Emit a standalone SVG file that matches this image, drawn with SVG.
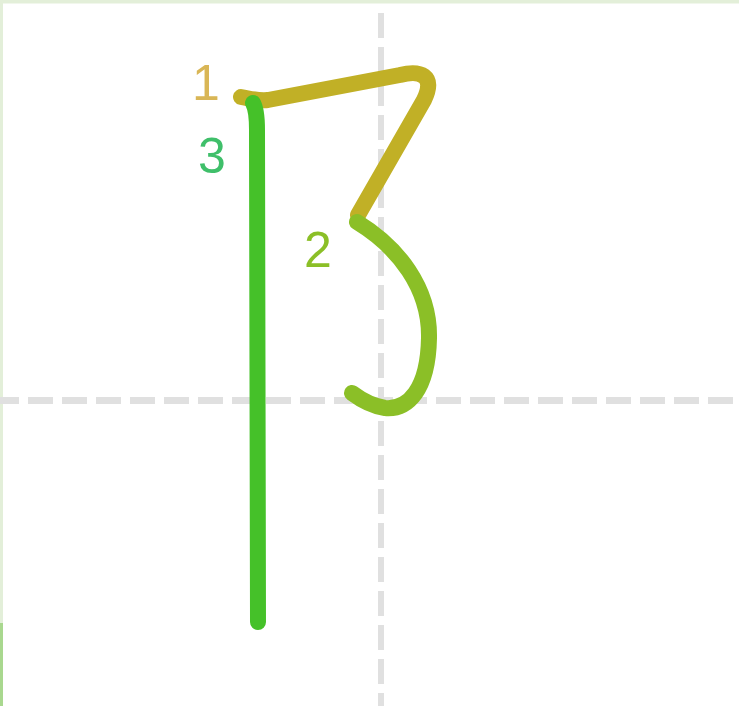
<svg xmlns="http://www.w3.org/2000/svg" width="739" height="706" viewBox="0 0 739 706">
<style>
.grid{stroke:#e0e0e0;stroke-dasharray:25 9;fill:none}
.stroke{fill:none;stroke-linecap:round;stroke-linejoin:round;stroke-width:16}
.num{font-family:"Liberation Sans",Arial,sans-serif;font-size:50px;text-anchor:middle}
</style>
<rect x="0" y="0" width="739" height="706" fill="#ffffff"/>
<rect x="0" y="0" width="739" height="3.5" fill="#e3efd9"/>
<rect x="0" y="0" width="3" height="706" fill="#e3efd9"/>
<rect x="0" y="623" width="3" height="83" fill="#a9d88f"/>
<g id="guides">
<line class="grid" x1="-6" y1="400.5" x2="739" y2="400.5" stroke-width="7"/>
<line class="grid" x1="381" y1="13" x2="381" y2="706" stroke-width="6"/>
</g>
<g id="connectors"></g>
<g id="stroke1">
<path class="stroke" stroke="#c1b026" d="M241,97 C252,99 258,101 268,100 L400,75 C420,70 436,75 424,100 L358,215"/>
</g>
<g id="stroke2">
<path class="stroke" stroke="#8bbf27" d="M357,222 C398,247 430,288 429,338 C428,390 408,410 385,408 C372,406 360,399 352,393"/>
</g>
<g id="stroke3">
<path class="stroke" stroke="#45c129" d="M253,103 Q257,110 257,130 L258,622"/>
</g>
<g id="label1"><text class="num" x="206" y="100" fill="#d9b656">1</text></g>
<g id="label2"><text class="num" x="318" y="267" fill="#8bbf27">2</text></g>
<g id="label3"><text class="num" x="212" y="173" fill="#3fbf6a">3</text></g>
</svg>
